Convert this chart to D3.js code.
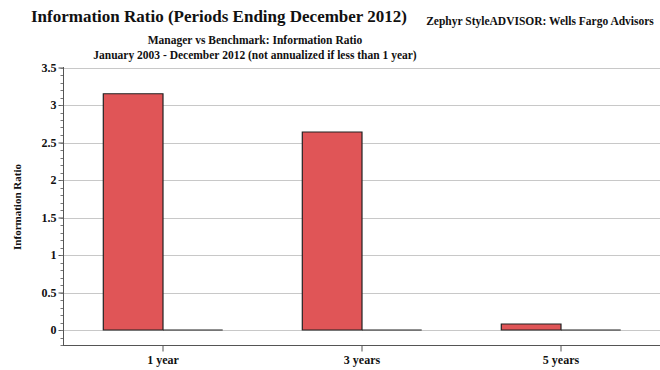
<!DOCTYPE html>
<html><head><meta charset="utf-8">
<script src="https://cdn.jsdelivr.net/npm/d3@7"></script>
<style>body{margin:0;background:#fff}svg{display:block}text{font-family:"Liberation Serif",serif;font-weight:bold;fill:#111}</style>
</head><body><svg id="c" width="660" height="370"></svg>
<script>
const categories = ["1 year", "3 years", "5 years"];
const seriesNames = ["Manager", "Benchmark"];
const managerValues = [3.15, 2.64, 0.08];
const benchmarkValues = [0, 0, 0];
const yTicks = [0, 0.5, 1, 1.5, 2, 2.5, 3, 3.5];
const yTickLabels = ["0", "0.5", "1", "1.5", "2", "2.5", "3", "3.5"];

const svg = d3.select("#c");
const y = d3.scaleLinear().domain([-0.2, 3.5]).range([345, 67.5]);
const x0 = d3.scaleBand().domain(categories).range([63.5, 660.5]).paddingInner(0.4).paddingOuter(0.2);
const x1 = d3.scaleBand().domain(seriesNames).range([0, x0.bandwidth()]);
const colors = {Manager: "#E05557", Benchmark: "#E05557"};

// gridlines
svg.append("g").selectAll("line").data(yTicks).join("line")
  .attr("x1", 64).attr("x2", 660)
  .attr("y1", d => Math.round(y(d)) + 0.5).attr("y2", d => Math.round(y(d)) + 0.5)
  .attr("stroke", "#c8c8c8").attr("stroke-width", 1.2);

// bars (as paths so that zero-height bars still show their outline)
const data = categories.map((c, i) => ({c, vals: [{s: "Manager", v: managerValues[i]}, {s: "Benchmark", v: benchmarkValues[i]}]}));
const g = svg.append("g").selectAll("g").data(data).join("g")
  .attr("transform", d => `translate(${x0(d.c)},0)`);
g.selectAll("path").data(d => d.vals).join("path")
  .attr("d", d => {
    const x = x1(d.s), w = x1.bandwidth();
    const top = Math.min(y(d.v), y(0)), h = Math.abs(y(0) - y(d.v));
    return `M${x},${top}h${w}v${h}h${-w}Z`;
  })
  .attr("fill", d => colors[d.s])
  .attr("stroke", "#222").attr("stroke-width", 1.2);

// y axis
const yAxis = d3.axisLeft(y).tickValues(yTicks).tickFormat((d, i) => yTickLabels[i]).tickSize(5).tickPadding(2);
const ya = svg.append("g").attr("transform", "translate(63.5,0)").call(yAxis);
ya.select(".domain").remove();
ya.selectAll("line").attr("stroke", "#555");
ya.selectAll("text").style("font-size", "12px").attr("fill", "#222");
// minor ticks
const minor = d3.range(-2, 36).map(d => d / 10);
svg.append("g").selectAll("line").data(minor).join("line")
  .attr("x1", 60.5).attr("x2", 63.5)
  .attr("y1", d => Math.round(y(d)) + 0.5).attr("y2", d => Math.round(y(d)) + 0.5)
  .attr("stroke", "#777");
svg.append("line").attr("x1", 63.5).attr("x2", 63.5).attr("y1", 67).attr("y2", 345.5).attr("stroke", "#555");

// x axis
const xa = svg.append("g").attr("transform", "translate(0,345.5)")
  .call(d3.axisBottom(x0).tickSize(6).tickPadding(4).tickSizeOuter(0));
xa.select(".domain").attr("d", "M63,0H660").attr("stroke", "#555");
xa.selectAll("line").attr("stroke", "#555");
xa.selectAll("text").style("font-size", "12px").attr("fill", "#222");

// titles
svg.append("text").attr("x", 219).attr("y", 22).attr("text-anchor", "middle").style("font-size", "17px")
  .text("Information Ratio (Periods Ending December 2012)");
svg.append("text").attr("x", 540).attr("y", 25).attr("text-anchor", "middle").style("font-size", "11.5px")
  .text("Zephyr StyleADVISOR: Wells Fargo Advisors");
svg.append("text").attr("x", 255).attr("y", 44).attr("text-anchor", "middle").style("font-size", "11.5px")
  .text("Manager vs Benchmark: Information Ratio");
svg.append("text").attr("x", 255).attr("y", 59).attr("text-anchor", "middle").style("font-size", "11.5px")
  .text("January 2003 - December 2012 (not annualized if less than 1 year)");
svg.append("text").attr("transform", "translate(21,207) rotate(-90)").attr("text-anchor", "middle").style("font-size", "11px")
  .text("Information Ratio");
</script></body></html>
